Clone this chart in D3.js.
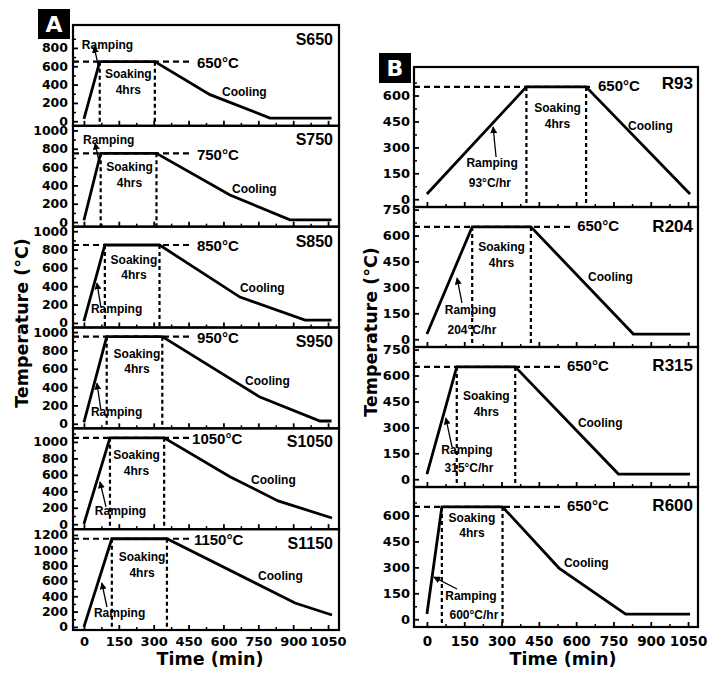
<!DOCTYPE html>
<html><head><meta charset="utf-8">
<script src="https://cdn.jsdelivr.net/npm/d3@7"></script>
<style>
body{margin:0;background:#fff}
.tick text{font-family:"DejaVu Sans",sans-serif;font-weight:bold;fill:#000}
.ann{font-family:"Liberation Sans",Arial,sans-serif;font-weight:bold;fill:#000}
.ttl{font-family:"DejaVu Sans",sans-serif;font-weight:bold;fill:#000}
</style>
</head><body><svg id="c" width="713" height="682"></svg>
<script>
// ---------- data ----------
const timeTicks=[0,150,300,450,600,750,900,1050];
const timeMinor=[75,225,375,525,675,825,975];

// Panel A: soaking temperature series
const namesA=["S650","S750","S850","S950","S1050","S1150"];
const soakTempA=[650,750,850,950,1050,1150];
const soakStartA=[68,72,90,98,112,120];
const soakEndA=[305,312,325,337,345,357];
const S650=[[0,25],[68,650],[305,650],[542,290],[800,35],[1065,35]];
const S750=[[0,20],[72,750],[312,750],[628,295],[886,25],[1065,25]];
const S850=[[0,20],[90,850],[325,850],[671,282],[951,30],[1065,30]];
const S950=[[0,15],[98,950],[337,950],[757,291],[1015,30],[1065,30]];
const S1050=[[0,5],[112,1050],[345,1050],[628,578],[835,283],[1067,76]];
const S1150=[[0,0],[120,1150],[357,1150],[908,312],[1067,156]];
const profilesA=[S650,S750,S850,S950,S1050,S1150];
const yTicksA=[[0,200,400,600,800],[0,200,400,600,800,1000],[0,200,400,600,800,1000],
  [0,200,400,600,800,1000],[0,200,400,600,800,1000],[0,200,400,600,800,1000,1200]];

// Panel B: ramp-rate series
const namesB=["R93","R204","R315","R600"];
const rateB=[93,204,315,600];
const soakTempB=[650,650,650,650];
const soakStartB=[400,182,120,60];
const soakEndB=[640,418,355,304];
const R93=[[0,30],[400,650],[640,650],[1058,30]];
const R204=[[0,30],[182,650],[418,650],[830,30],[1058,30]];
const R315=[[0,30],[120,650],[355,650],[770,30],[1058,30]];
const R600=[[0,30],[60,650],[304,650],[531,296],[799,30],[1058,30]];
const profilesB=[R93,R204,R315,R600];
const yTicksB=[[0,150,300,450,600],[0,150,300,450,600,750],[0,150,300,450,600,750],[0,150,300,450,600]];

// ---------- layout / annotation placement (data coordinates) ----------
const yDomA=[[-50,1050],[-50,1050],[-50,1050],[-50,1050],[-60,1165],[-40,1275]];
const yDomB=[-45,765];
const annA=[
 {ramp:[-9,786],soak:[191,470],hrs:[191,296],tx:486,cool:[594,275],name:832,arrow:[[62,600],[44,815]]},
 {ramp:[-4,851],soak:[196,557],hrs:[196,382],tx:486,cool:[637,317],name:838,arrow:[[64,670],[48,860]]},
 {ramp:[30,108],soak:[215,641],hrs:[215,478],tx:486,cool:[671,337],name:830,arrow:[[73,173],[56,435]]},
 {ramp:[30,84],soak:[228,716],hrs:[228,552],tx:486,cool:[693,422],name:833,arrow:[[73,149],[56,443]]},
 {ramp:[47,113],soak:[226,793],hrs:[226,599],tx:465,cool:[719,489],name:936,arrow:[[95,210],[69,514]]},
 {ramp:[43,130],soak:[250,860],hrs:[250,651],tx:473,cool:[749,612],name:1021,arrow:[[99,260],[77,573]]}
];
const annB=[
 {ramp:[262,186],rate:[253,71],soak:[525,505],hrs:[525,412],tx:688,dash:668,cool:[809,400],name:635,arrow:[[278,244],[266,418]]},
 {ramp:[175,146],rate:[181,30],soak:[300,510],hrs:[300,418],tx:604,dash:590,cool:[648,337],name:620,arrow:[[141,210],[121,354]]},
 {ramp:[161,146],rate:[169,42],soak:[239,458],hrs:[239,366],tx:563,dash:548,cool:[607,302],name:626,arrow:[[101,186],[76,354]]},
 {ramp:[177,111],rate:[189,1],soak:[181,562],hrs:[181,476],tx:563,dash:548,cool:[551,302],name:626,arrow:[[121,175],[28,244]]}
];

const svg=d3.select("#c");
svg.append("rect").attr("width",713).attr("height",682).attr("fill","#fff");
svg.append("defs").append("marker").attr("id","ah").attr("viewBox","0 0 10 10")
  .attr("refX",9).attr("refY",5).attr("markerWidth",7).attr("markerHeight",7)
  .attr("markerUnits","userSpaceOnUse").attr("orient","auto")
  .append("path").attr("d","M0,0L10,5L0,10Z").attr("fill","#000");

function txt(g,x,y,s,size,anchor){
  return g.append("text").attr("class","ann").attr("x",x).attr("y",y)
    .attr("font-size",size).attr("text-anchor",anchor||"start").text(s);
}
const fmt=d3.format("d");

function drawPanel(p){
  const x=d3.scaleLinear().domain(p.xDom).range([p.x0,p.x1]);
  const y=d3.scaleLinear().domain(p.yDom).range([p.y1,p.y0]);
  const g=svg.append("g");
  // horizontal dashed soaking temperature line
  g.append("line").attr("x1",x(p.xDom[0])).attr("x2",x(p.dashEnd))
    .attr("y1",y(p.T)).attr("y2",y(p.T))
    .attr("stroke","#000").attr("stroke-width",2.2).attr("stroke-dasharray","6,4");
  // vertical dashed soaking boundaries
  [p.s0,p.s1].forEach(t=>g.append("line").attr("x1",x(t)).attr("x2",x(t))
    .attr("y1",y(p.T)).attr("y2",y(p.yDom[0]))
    .attr("stroke","#000").attr("stroke-width",2.2).attr("stroke-dasharray","4,3"));
  // profile
  g.append("path").datum(p.data)
    .attr("d",d3.line().x(d=>x(d[0])).y(d=>y(d[1])))
    .attr("fill","none").attr("stroke","#000").attr("stroke-width",2.8);
  // y axis
  const ymin=d3.range(p.yStep/2,p.yDom[1],p.yStep);
  g.append("g").attr("transform",`translate(${p.x0},0)`)
    .call(d3.axisLeft(y).tickValues(ymin).tickSizeInner(-3).tickSizeOuter(0).tickFormat(""))
    .call(a=>a.select(".domain").remove()).selectAll("line").attr("stroke-width",1.5);
  g.append("g").attr("transform",`translate(${p.x0},0)`)
    .call(d3.axisLeft(y).tickValues(p.yt).tickFormat(fmt).tickSizeInner(-5).tickSizeOuter(0).tickPadding(p.yPad))
    .call(a=>a.select(".domain").remove())
    .call(a=>a.selectAll("line").attr("stroke-width",1.8))
    .call(a=>a.selectAll("text").attr("font-size",p.tickFont));
  // x axis
  g.append("g").attr("transform",`translate(0,${p.y1})`)
    .call(d3.axisBottom(x).tickValues(timeMinor).tickSizeInner(-3).tickSizeOuter(0).tickFormat(""))
    .call(a=>a.select(".domain").remove()).selectAll("line").attr("stroke-width",1.5);
  const xa=d3.axisBottom(x).tickValues(timeTicks).tickSizeInner(-5).tickSizeOuter(0).tickPadding(p.xPad)
    .tickFormat(p.last?fmt:"");
  g.append("g").attr("transform",`translate(0,${p.y1})`).call(xa)
    .call(a=>a.select(".domain").remove())
    .call(a=>a.selectAll("line").attr("stroke-width",1.8))
    .call(a=>a.selectAll("text").attr("font-size",p.xFont));
  // annotations
  const a=p.ann;
  txt(g,x(a.ramp[0]),y(a.ramp[1]),"Ramping",12,p.rampAnchor);
  if(p.rate!==undefined) txt(g,x(a.rate[0]),y(a.rate[1]),p.rate+"°C/hr",12,"middle");
  txt(g,x(a.soak[0]),y(a.soak[1]),"Soaking",12,"middle");
  txt(g,x(a.hrs[0]),y(a.hrs[1]),"4hrs",12,"middle");
  txt(g,x(a.cool[0]),y(a.cool[1]),"Cooling",12,"start");
  txt(g,x(a.tx),y(p.T),p.T+"°C",15,"start").attr("dy",p.tdy);
  txt(g,x(p.xDom[1])-p.nameInset,y(a.name),p.name,p.nameFont,"end");
  g.append("line").attr("x1",x(a.arrow[0][0])).attr("y1",y(a.arrow[0][1]))
    .attr("x2",x(a.arrow[1][0])).attr("y2",y(a.arrow[1][1]))
    .attr("stroke","#000").attr("stroke-width",1.3).attr("marker-end","url(#ah)");
  // frame
  g.append("rect").attr("x",p.x0).attr("y",p.y0).attr("width",p.x1-p.x0).attr("height",p.y1-p.y0)
    .attr("fill","none").attr("stroke","#000").attr("stroke-width",2.2);
}

// Panel A
const Atop=25,Abot=630,Ah=(Abot-Atop)/6;
namesA.forEach((n,i)=>drawPanel({
  x0:73,x1:339,y0:Atop+i*Ah,y1:Atop+(i+1)*Ah,xDom:[-47,1097],yDom:yDomA[i],
  data:profilesA[i],T:soakTempA[i],s0:soakStartA[i],s1:soakEndA[i],dashEnd:452,
  yt:yTicksA[i],yStep:200,yPad:5,tickFont:12.5,xFont:13,xPad:7,last:i===5,
  ann:annA[i],name:n,nameFont:16,nameInset:6,rampAnchor:"start",tdy:"0.42em"
}));
// Panel B
const Btop=67,Bbot=627,Bh=(Bbot-Btop)/4;
namesB.forEach((n,i)=>drawPanel({
  x0:414,x1:698,y0:Btop+i*Bh,y1:Btop+(i+1)*Bh,xDom:[-52,1090],yDom:yDomB,
  data:profilesB[i],T:soakTempB[i],s0:soakStartB[i],s1:soakEndB[i],dashEnd:annB[i].dash,
  yt:yTicksB[i],yStep:150,yPad:4,tickFont:13,xFont:13.5,xPad:9,last:i===3,
  ann:annB[i],name:n,nameFont:17,nameInset:5,rampAnchor:"middle",rate:rateB[i],tdy:"0.3em"
}));

// axis titles
svg.append("text").attr("class","ttl").attr("font-size",17.5).attr("text-anchor","middle")
  .attr("transform","translate(28,323) rotate(-90)").text("Temperature (°C)");
svg.append("text").attr("class","ttl").attr("font-size",17.5).attr("text-anchor","middle")
  .attr("transform","translate(377,332) rotate(-90)").text("Temperature (°C)");
svg.append("text").attr("class","ttl").attr("font-size",17.5).attr("text-anchor","middle")
  .attr("x",210).attr("y",665).text("Time (min)");
svg.append("text").attr("class","ttl").attr("font-size",17.5).attr("text-anchor","middle")
  .attr("x",563).attr("y",665).text("Time (min)");

// panel letters
[["A",38,9],["B",379,53]].forEach(([l,bx,by])=>{
  svg.append("rect").attr("x",bx).attr("y",by).attr("width",32).attr("height",30).attr("fill","#000");
  svg.append("text").attr("class","ttl").attr("x",bx+16).attr("y",by+23).attr("text-anchor","middle")
    .attr("font-size",22).attr("fill","#fff").style("fill","#fff").text(l);
});
</script></body></html>
